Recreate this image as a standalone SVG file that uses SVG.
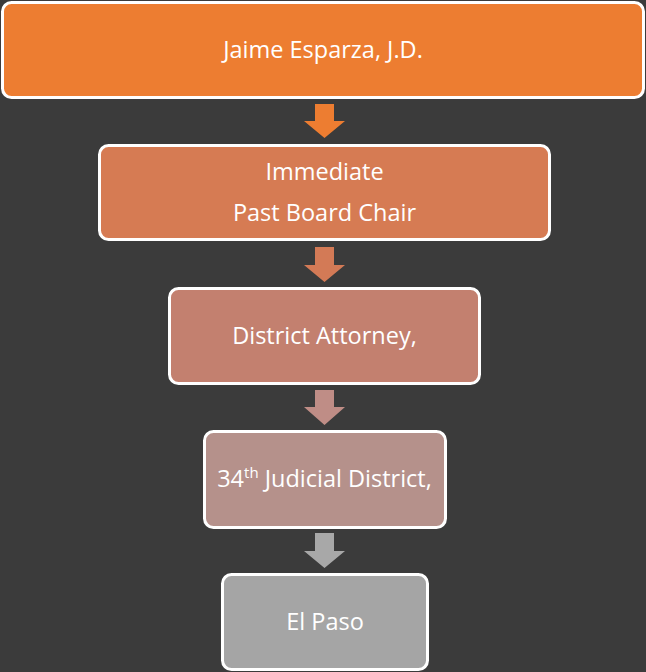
<svg xmlns="http://www.w3.org/2000/svg" width="646" height="672" viewBox="0 0 646 672">
<style>
.box{stroke:#FFFFFF;stroke-width:3}
.t{font-family:"Open Sans","Liberation Sans",sans-serif;font-size:23.5px;fill:#FFFFFF;text-anchor:middle}
</style>
<rect x="0" y="0" width="646" height="672" fill="#3B3B3B"/>
<g id="connectors">
<polygon points="315,104 334,104 334,121 345,121 324.5,138 304,121 315,121" fill="#ED7D31"/>
<polygon points="315,247 334,247 334,265 345,265 324.5,282 304,265 315,265" fill="#D37A56"/>
<polygon points="315,390 334,390 334,407 345,407 324.5,425 304,407 315,407" fill="#BF8D86"/>
<polygon points="315,533 334,533 334,551 345,551 324.5,568 304,551 315,551" fill="#A8A8A8"/>
</g>
<g id="n1">
<rect class="box" x="2.5" y="2.5" width="641" height="95" rx="9" fill="#ED7D31"/>
<text class="t" x="323" y="58">Jaime Esparza, J.D.</text>
</g>
<g id="n2">
<rect class="box" x="99.5" y="145.5" width="450" height="94" rx="9" fill="#D67B53"/>
<text class="t" x="324.5" y="180">Immediate</text>
<text class="t" x="324.5" y="221">Past Board Chair</text>
</g>
<g id="n3">
<rect class="box" x="169.5" y="288.5" width="310" height="95" rx="9" fill="#C3806F"/>
<text class="t" x="324.5" y="344">District Attorney,</text>
</g>
<g id="n4">
<rect class="box" x="204.5" y="431.5" width="241" height="96" rx="9" fill="#B5918B"/>
<text class="t" x="324.5" y="487">34<tspan font-size="15" dy="-9">th</tspan><tspan dy="9"> Judicial District,</tspan></text>
</g>
<g id="n5">
<rect class="box" x="222.5" y="574.5" width="205" height="95" rx="9" fill="#A5A5A5"/>
<text class="t" x="325" y="630">El Paso</text>
</g>
</svg>
